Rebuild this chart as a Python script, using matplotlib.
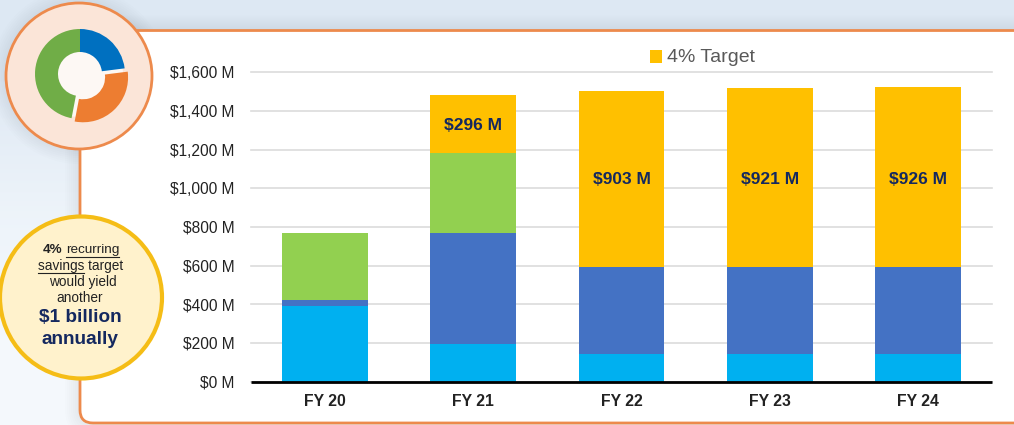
# coding: utf-8
import numpy as np
import matplotlib
matplotlib.use("Agg")
import matplotlib.pyplot as plt
from matplotlib.patches import Circle, FancyBboxPatch, Rectangle

W, H = 1014, 425

years = ["FY 20", "FY 21", "FY 22", "FY 23", "FY 24"]
cyan_vals = [390, 194, 142, 142, 142]
blue_vals = [31, 577, 448, 448, 448]
green_vals = [345, 409, 0, 0, 0]
target_vals = [0, 305, 913, 929, 934]
target_labels = ["", "$296 M", "$903 M", "$921 M", "$926 M"]
y_ticks = [0, 200, 400, 600, 800, 1000, 1200, 1400, 1600]
y_labels = ["$0 M", "$200 M", "$400 M", "$600 M", "$800 M", "$1,000 M", "$1,200 M", "$1,400 M", "$1,600 M"]
donut_shares = [23, 30, 47]
donut_colors = ["#0070c0", "#ed7d31", "#70ad47"]

ORANGE = "#ed8a4c"
NAVY = "#14285f"
DARK = "#222222"
plt.rcParams["font.family"] = ["Liberation Sans", "DejaVu Sans"]

fig = plt.figure(figsize=(W / 100, H / 100), dpi=100)


def px_axes(x0, y0, x1, y1, **kw):
    # axes from picture pixels, y measured from the top
    return fig.add_axes([x0 / W, 1 - y1 / H, (x1 - x0) / W, (y1 - y0) / H], **kw)


# background and panel
bg = px_axes(0, 0, W, H, zorder=0)
bg.axis("off")
grad = np.array([[0.87, 0.91, 0.955], [0.93, 0.955, 0.98], [0.96, 0.975, 0.99]])
bg.imshow(grad[:, None, :], extent=[0, W, H, 0], aspect="auto", interpolation="bilinear")
bg.set_xlim(0, W)
bg.set_ylim(H, 0)

# soft shadow round the panel and the bubbles
for pad in range(1, 16, 2):
    bg.add_patch(FancyBboxPatch((80 - pad, 30.5 - pad), 1000, 392 + 2 * pad,
                                boxstyle="round,pad=0,rounding_size=%d" % (13 + pad),
                                fc="black", ec="none", alpha=0.007))
    bg.add_patch(Circle((79, 76), 73 + pad, fc="black", ec="none", alpha=0.006))
bg.add_patch(FancyBboxPatch((80, 30.5), 1000, 392.5, boxstyle="round,pad=0,rounding_size=13",
                            fc="white", ec=ORANGE, lw=2))

# bubbles on the left
bg.add_patch(Circle((79, 76), 73, fc="#fbe5d8", ec=ORANGE, lw=2, zorder=3))
bg.add_patch(Circle((81, 297.5), 81, fc="#fff2cc", ec="#f5bd16", lw=3, zorder=3))
bg.text(62.5, 250, "4%", fontsize=9.7, weight="bold", ha="right", va="center", zorder=4, color=DARK)
bg.text(66, 250, "recurring", fontsize=9.7, ha="left", va="center", zorder=4, color=DARK)
bg.text(80.5, 266, "savings target", fontsize=9.8, ha="center", va="center", zorder=4, color=DARK)
bg.text(82.5, 282, "would yield", fontsize=9.8, ha="center", va="center", zorder=4, color=DARK)
bg.text(80, 298, "another", fontsize=9.8, ha="center", va="center", zorder=4, color=DARK)
bg.text(80, 317, "$1 billion", fontsize=13.7, weight="bold", ha="center", va="center", zorder=4, color=NAVY)
bg.text(80, 340, "annually", fontsize=13.7, weight="bold", ha="center", va="center", zorder=4, color=NAVY)
bg.plot([66, 119], [257, 257], color=DARK, lw=0.8, zorder=4)
bg.plot([38, 84], [273, 273], color=DARK, lw=0.8, zorder=4)

# small donut, the explode of pie is in data units here
donut = px_axes(25, 19, 135, 129)
donut.set_zorder(5)
donut.add_patch(Circle((0, 0), 43, fc="#fdf8f4", ec="none", zorder=0))
donut.pie(donut_shares, colors=donut_colors, startangle=90, counterclock=False, radius=45,
          explode=[0, 4.5, 0], wedgeprops={"width": 23, "zorder": 1})
donut.set_xlim(-55, 55)
donut.set_ylim(-55, 55)

# stacked bars
ax = px_axes(251, 72.3, 992, 381.5, zorder=4)
ax.patch.set_alpha(0)
x = np.arange(len(years))
bottom = np.zeros(len(years))
for vals, color in [(cyan_vals, "#00b0f0"), (blue_vals, "#4472c4"), (green_vals, "#92d050"), (target_vals, "#ffc000")]:
    ax.bar(x, vals, width=0.58, bottom=bottom, color=color, zorder=3)
    bottom += np.array(vals)

cum = np.array(cyan_vals) + np.array(blue_vals) + np.array(green_vals)
for i, lab in enumerate(target_labels):
    if lab:
        y_lab = cum[i] + target_vals[i] / 2 - 8 if i == 1 else 1047
        ax.text(i, y_lab, lab, color=NAVY, fontsize=12.5, weight="bold", ha="center", va="center", zorder=4)

ax.set_xlim(-0.5, 4.5)
ax.set_ylim(0, 1600)
ax.set_yticks(y_ticks)
ax.set_yticklabels(y_labels, fontsize=11.2, color=DARK)
ax.set_xticks(x)
ax.set_xticklabels(years, fontsize=11.3, weight="bold", color=DARK)
ax.tick_params(axis="both", length=0)
ax.tick_params(axis="y", pad=12)
ax.tick_params(axis="x", pad=9)
ax.grid(axis="y", color="#dcdcdc", lw=1.2, zorder=0, clip_on=False)
ax.set_axisbelow(True)
for s in ["top", "right", "left"]:
    ax.spines[s].set_visible(False)
ax.spines["bottom"].set_linewidth(2)
ax.spines["bottom"].set_color("black")
ax.spines["bottom"].set_capstyle("butt")
ax.spines["bottom"].set_zorder(6)

# legend
bg.add_patch(Rectangle((650, 50), 12, 13, fc="#ffc000", ec="none"))
bg.text(667, 57, "4% Target", fontsize=14, color="#595959", ha="left", va="center")

fig.savefig("out.png", dpi=100)
